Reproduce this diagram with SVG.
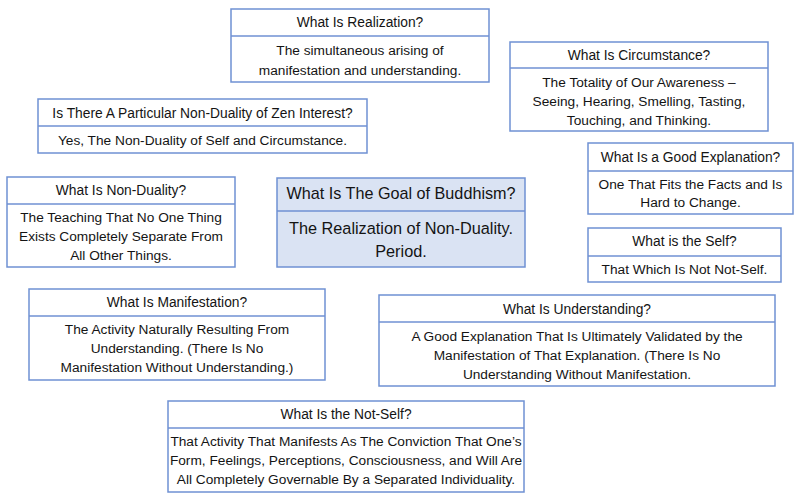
<svg xmlns="http://www.w3.org/2000/svg" width="800" height="500" viewBox="0 0 800 500">
<style>
.box{fill:#ffffff;stroke:#6f91d3;stroke-width:1.5}
.goal{fill:#dae3f3;stroke:#6f91d3;stroke-width:1.5}
.div{stroke:#6f91d3;stroke-width:1.5}
text{font-family:"Liberation Sans",Arial,sans-serif;fill:#141414;text-anchor:middle}
.t{font-size:13.8px}
.b{font-size:13.7px}
.gt{font-size:16.2px}
.gb{font-size:16.3px}
</style>
<rect width="800" height="500" fill="#ffffff"/>
<g id="connectors"></g>
<g id="realization">
<rect class="box" x="231" y="9" width="258" height="73"/>
<line class="div" x1="231" y1="36" x2="489" y2="36"/>
<text class="t" x="360" y="27">What Is Realization?</text>
<text class="b" x="360" y="55">The simultaneous arising of</text>
<text class="b" x="360" y="75">manifestation and understanding.</text>
</g>
<g id="circumstance">
<rect class="box" x="510" y="42" width="258" height="89"/>
<line class="div" x1="510" y1="68" x2="768" y2="68"/>
<text class="t" x="639" y="60">What Is Circumstance?</text>
<text class="b" x="639" y="87">The Totality of Our Awareness –</text>
<text class="b" x="639" y="106">Seeing, Hearing, Smelling, Tasting,</text>
<text class="b" x="639" y="125">Touching, and Thinking.</text>
</g>
<g id="zen">
<rect class="box" x="38" y="99" width="329" height="54"/>
<line class="div" x1="38" y1="126" x2="367" y2="126"/>
<text class="t" x="202.5" y="118">Is There A Particular Non-Duality of Zen Interest?</text>
<text class="b" x="202.5" y="145">Yes, The Non-Duality of Self and Circumstance.</text>
</g>
<g id="explanation">
<rect class="box" x="588" y="143" width="205" height="71"/>
<line class="div" x1="588" y1="171" x2="793" y2="171"/>
<text class="t" x="690.5" y="162">What Is a Good Explanation?</text>
<text class="b" x="690.5" y="189">One That Fits the Facts and Is</text>
<text class="b" x="690.5" y="207">Hard to Change.</text>
</g>
<g id="nonduality">
<rect class="box" x="7" y="177" width="228" height="90"/>
<line class="div" x1="7" y1="204" x2="235" y2="204"/>
<text class="t" x="121" y="195">What Is Non-Duality?</text>
<text class="b" x="121" y="222">The Teaching That No One Thing</text>
<text class="b" x="121" y="241">Exists Completely Separate From</text>
<text class="b" x="121" y="260">All Other Things.</text>
</g>
<g id="goal">
<rect class="goal" x="277" y="178" width="248" height="89"/>
<line class="div" x1="277" y1="211" x2="525" y2="211"/>
<text class="gt" x="401" y="199">What Is The Goal of Buddhism?</text>
<text class="gb" x="401" y="234">The Realization of Non-Duality.</text>
<text class="gb" x="401" y="257">Period.</text>
</g>
<g id="self">
<rect class="box" x="588" y="228" width="193" height="54"/>
<line class="div" x1="588" y1="256" x2="781" y2="256"/>
<text class="t" x="684.5" y="246">What is the Self?</text>
<text class="b" x="684.5" y="274">That Which Is Not Not-Self.</text>
</g>
<g id="manifestation">
<rect class="box" x="29" y="289" width="296" height="91"/>
<line class="div" x1="29" y1="316" x2="325" y2="316"/>
<text class="t" x="177" y="307">What Is Manifestation?</text>
<text class="b" x="177" y="334">The Activity Naturally Resulting From</text>
<text class="b" x="177" y="353">Understanding. (There Is No</text>
<text class="b" x="177" y="372">Manifestation Without Understanding.)</text>
</g>
<g id="understanding">
<rect class="box" x="379" y="295" width="396" height="91"/>
<line class="div" x1="379" y1="322" x2="775" y2="322"/>
<text class="t" x="577" y="314">What Is Understanding?</text>
<text class="b" x="577" y="341">A Good Explanation That Is Ultimately Validated by the</text>
<text class="b" x="577" y="360">Manifestation of That Explanation. (There Is No</text>
<text class="b" x="577" y="379">Understanding Without Manifestation.</text>
</g>
<g id="notself">
<rect class="box" x="168" y="401" width="356" height="91"/>
<line class="div" x1="168" y1="428" x2="524" y2="428"/>
<text class="t" x="346" y="419">What Is the Not-Self?</text>
<text class="b" x="346" y="446">That Activity That Manifests As The Conviction That One’s</text>
<text class="b" x="346" y="465">Form, Feelings, Perceptions, Consciousness, and Will Are</text>
<text class="b" x="346" y="484">All Completely Governable By a Separated Individuality.</text>
</g>
</svg>
